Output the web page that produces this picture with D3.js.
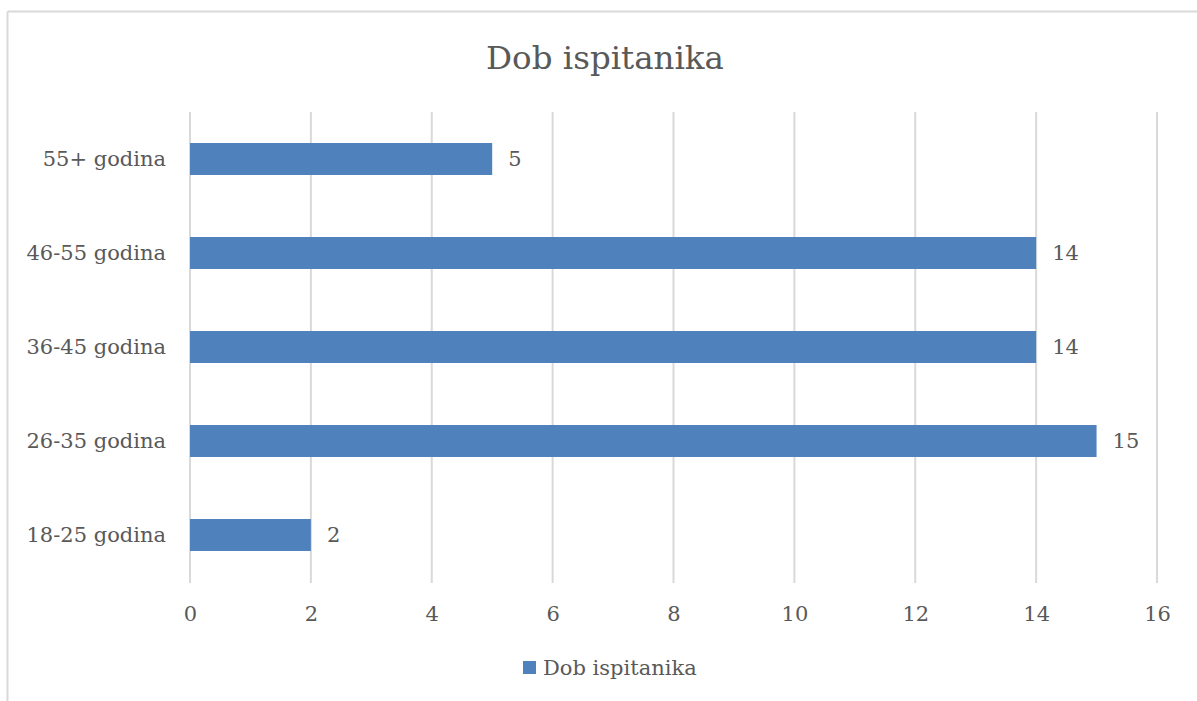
<!DOCTYPE html>
<html><head><meta charset="utf-8">
<script src="https://cdn.jsdelivr.net/npm/d3@7"></script>
<style>body{margin:0;background:#fff}svg{display:block}</style>
</head><body>
<svg id="c" width="1197" height="701"></svg>
<script>
const categories = ["18-25 godina","26-35 godina","36-45 godina","46-55 godina","55+ godina"];
const values = [2,15,14,14,5];
const xTicks = [0,2,4,6,8,10,12,14,16];
const title = "Dob ispitanika";
const seriesName = "Dob ispitanika";

const svg = d3.select("#c");
const font = "'DejaVu Serif', serif";
const txt = "#595959";
const barColor = "#4f81bd";

// chart border (top and left visible)
svg.append("line").attr("x1",7.5).attr("x2",1197).attr("y1",11.5).attr("y2",11.5).attr("stroke","#d9d9d9").attr("stroke-width",2);
svg.append("line").attr("x1",7.5).attr("x2",7.5).attr("y1",11.5).attr("y2",701).attr("stroke","#d9d9d9").attr("stroke-width",2);

const x = d3.scaleLinear().domain([0,16]).range([190,1157]);
const y = d3.scaleBand().domain(categories.slice().reverse()).range([112,582]).paddingInner(0.66).paddingOuter(0.33);

// gridlines
svg.append("g").selectAll("line").data(xTicks).join("line")
  .attr("x1",d=>x(d)).attr("x2",d=>x(d)).attr("y1",112).attr("y2",583)
  .attr("stroke","#d9d9d9").attr("stroke-width",2);

// x tick labels via axis
const xAxis = svg.append("g").attr("transform","translate(0,606)")
  .call(d3.axisBottom(x).tickValues(xTicks).tickSize(0).tickPadding(0));
xAxis.select(".domain").remove();
xAxis.selectAll("text").attr("font-family",font).attr("font-size",21).attr("fill",txt).attr("dy","0.71em");

// y labels via axis
const yAxis = svg.append("g").attr("transform","translate(166,0)")
  .call(d3.axisLeft(y).tickSize(0).tickPadding(0));
yAxis.select(".domain").remove();
yAxis.selectAll("text").attr("font-family",font).attr("font-size",21).attr("fill",txt);

// bars
const data = categories.map((c,i)=>({c,v:values[i]}));
svg.append("g").selectAll("rect").data(data).join("rect")
  .attr("x",x(0)).attr("y",d=>y(d.c)).attr("width",d=>x(d.v)-x(0)).attr("height",y.bandwidth())
  .attr("fill",barColor);

// data labels
svg.append("g").selectAll("text").data(data).join("text")
  .attr("x",d=>x(d.v)+16).attr("y",d=>y(d.c)+y.bandwidth()/2).attr("dy","0.35em")
  .attr("font-family",font).attr("font-size",21).attr("fill",txt).text(d=>d.v);

// title
svg.append("text").attr("x",605).attr("y",58).attr("dy","0.35em").attr("text-anchor","middle")
  .attr("font-family",font).attr("font-size",32.5).attr("fill",txt).text(title);

// legend
svg.append("rect").attr("x",523).attr("y",661).attr("width",13).attr("height",13).attr("fill",barColor);
svg.append("text").attr("x",543).attr("y",668).attr("dy","0.35em")
  .attr("font-family",font).attr("font-size",21).attr("fill",txt).text(seriesName);
</script>
</body></html>
